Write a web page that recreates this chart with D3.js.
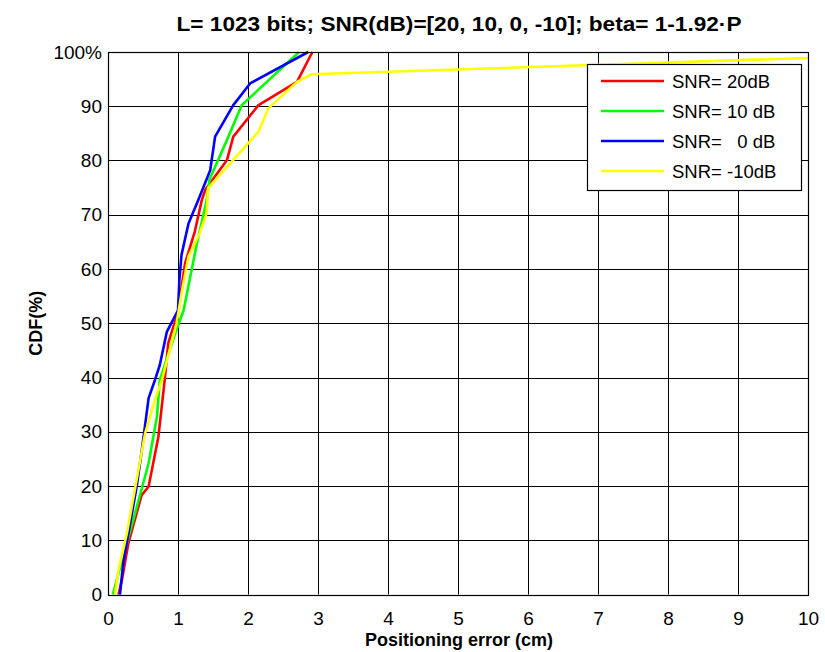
<!DOCTYPE html>
<html>
<head>
<meta charset="utf-8">
<script src="https://cdn.jsdelivr.net/npm/d3@7"></script>
<style>
  body { margin: 0; background: #fff; }
  text { font-family: Arial, "Liberation Sans", sans-serif; }
</style>
</head>
<body>
<div id="chart"></div>
<script>
// series: [error (cm), CDF (%)]
let snr20 = [[0.15,0],[0.20,2.7],[0.29,9.4],[0.48,18.3],[0.58,19.9],[0.72,29.1],[0.81,39.5],[0.86,46.3],[1.00,52.1],[1.10,61.0],[1.24,66.9],[1.34,72.7],[1.39,74.6],[1.70,80.1],[1.79,84.4],[2.15,90.2],[2.70,94.5],[2.92,100]];
let snr10 = [[0.07,0],[0.15,3.9],[0.36,13.7],[0.58,24.2],[0.70,32.8],[0.74,39.5],[0.96,48.1],[1.08,52.4],[1.27,64.7],[1.41,72.7],[1.45,76.5],[1.70,83.8],[1.91,90.2],[2.73,100]];
let snr0 = [[0.17,0],[0.22,6.0],[0.41,19.9],[0.48,26.3],[0.58,36.2],[0.67,39.5],[0.74,42.3],[0.84,48.4],[1.00,52.4],[1.02,58.0],[1.05,62.6],[1.15,68.4],[1.29,72.7],[1.46,78.2],[1.53,84.4],[1.79,90.2],[2.03,94.2],[2.86,100]];
let snrm10 = [[0.10,0],[0.15,4.5],[0.27,11.3],[0.53,29.7],[0.67,35.9],[0.77,39.5],[0.98,50.0],[1.05,55.5],[1.15,62.3],[1.31,66.6],[1.41,70.3],[1.43,74.9],[2.15,85.3],[2.29,89.6],[2.70,94.5],[2.91,95.9],[10,98.9]];

let seriesNames = ["SNR= 20dB", "SNR= 10 dB", "SNR=   0 dB", "SNR= -10dB"];
let seriesColors = ["#ff0000", "#00ff00", "#0000ff", "#ffff00"];
let xTicks = [0,1,2,3,4,5,6,7,8,9,10];
let yTicks = [0,10,20,30,40,50,60,70,80,90,100];

let allSeries = [snr20, snr10, snr0, snrm10];

let W = 825, H = 652;
let mLeft = 108, mRight = 808, mTop = 52, mBottom = 594.5;
let tick_font = "19px";

let svg = d3.select("#chart").append("svg")
    .attr("width", W)
    .attr("height", H);

let x = d3.scaleLinear().domain([0, 10]).range([mLeft, mRight]);
let y = d3.scaleLinear().domain([0, 100]).range([mBottom, mTop]);

// grid
let grid = svg.append("g").attr("id", "grid");
grid.selectAll(".vg").data(xTicks).enter().append("line")
    .attr("x1", d => Math.round(x(d)) + 0.5).attr("x2", d => Math.round(x(d)) + 0.5)
    .attr("y1", mTop).attr("y2", mBottom)
    .style("stroke", "#000").style("stroke-width", 1);
grid.selectAll(".hg").data(yTicks).enter().append("line")
    .attr("x1", mLeft).attr("x2", mRight)
    .attr("y1", d => Math.round(y(d)) + 0.5).attr("y2", d => Math.round(y(d)) + 0.5)
    .style("stroke", "#000").style("stroke-width", 1);

// curves
let line = d3.line().x(d => x(d[0])).y(d => y(d[1]));
let plot = svg.append("g").attr("id", "curves");
plot.selectAll("path").data(allSeries).enter().append("path")
    .attr("d", line)
    .style("fill", "none")
    .style("stroke", (d, i) => seriesColors[i])
    .style("stroke-width", 2.6)
    .style("stroke-linejoin", "round");

// box
svg.append("rect")
    .attr("x", mLeft + 0.5).attr("y", Math.round(mTop) + 0.5)
    .attr("width", mRight - mLeft).attr("height", Math.round(mBottom) - Math.round(mTop))
    .style("fill", "none").style("stroke", "#000").style("stroke-width", 1.2);

// axes (labels only, ticks are hidden under the grid)
let xAx = d3.axisBottom(x).tickValues(xTicks).tickSize(0).tickPadding(17);
svg.append("g").attr("transform", `translate(0,${mBottom})`).call(xAx)
    .call(g => g.select(".domain").remove())
    .selectAll("text").style("font-size", tick_font).attr("font-family", "Arial, 'Liberation Sans', sans-serif").style("fill", "#000");

let yAx = d3.axisLeft(y).tickValues(yTicks).tickSize(0).tickPadding(6)
    .tickFormat(d => d === 100 ? "100%" : d);
svg.append("g").attr("transform", `translate(${mLeft},0)`).call(yAx)
    .call(g => g.select(".domain").remove())
    .selectAll("text").style("font-size", tick_font).attr("font-family", "Arial, 'Liberation Sans', sans-serif").style("fill", "#000");

// titles
svg.append("text")
    .attr("x", 459).attr("y", 31)
    .attr("text-anchor", "middle")
    .attr("textLength", 565)
    .attr("lengthAdjust", "spacingAndGlyphs")
    .style("font-size", "20px").style("font-weight", "bold")
    .text("L= 1023 bits; SNR(dB)=[20, 10, 0, -10]; beta= 1-1.92·P");

svg.append("text")
    .attr("x", 459).attr("y", 646)
    .attr("text-anchor", "middle")
    .style("font-size", "18px").style("font-weight", "bold")
    .text("Positioning error (cm)");

svg.append("text")
    .attr("transform", `translate(42,${(mTop + mBottom) / 2}) rotate(-90)`)
    .attr("text-anchor", "middle")
    .style("font-size", "18px").style("font-weight", "bold")
    .text("CDF(%)");

// legend
let legend = svg.append("g").attr("id", "legend").attr("transform", "translate(587,64)");
legend.append("rect")
    .attr("x", 0.5).attr("y", 0.5).attr("width", 214).attr("height", 126)
    .style("fill", "#fff").style("stroke", "#000").style("stroke-width", 1.2);
let rows = legend.selectAll(".row").data(seriesNames).enter().append("g")
    .attr("transform", (d, i) => `translate(0,${17 + i * 30})`);
rows.append("line")
    .attr("x1", 14).attr("x2", 77).attr("y1", 0).attr("y2", 0)
    .style("stroke", (d, i) => seriesColors[i]).style("stroke-width", 2.6);
rows.append("text")
    .attr("x", 85).attr("y", 6.5)
    .style("font-size", "18.5px")
    .style("white-space", "pre")
    .attr("xml:space", "preserve")
    .text(d => d);
</script>
</body>
</html>
